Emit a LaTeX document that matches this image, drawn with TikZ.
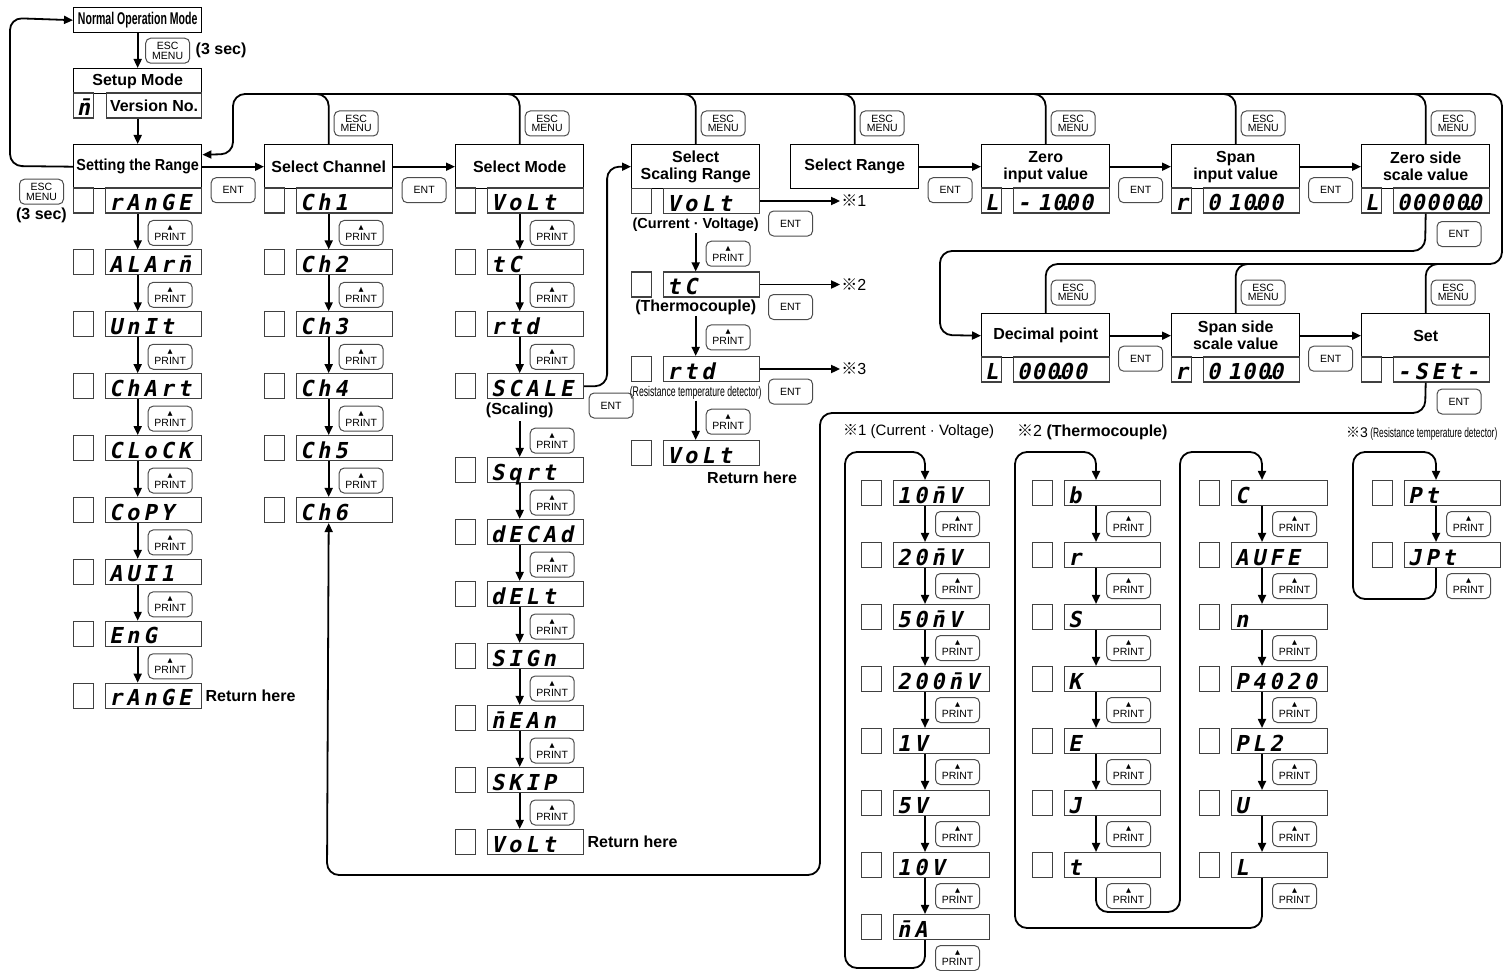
\documentclass[tikz,border=0pt]{standalone}
\usepackage{fontspec}
\setmainfont{Liberation Sans}
\newfontfamily\segfont[FakeSlant=0.2,LetterSpace=18]{DejaVu Sans Mono}
\newfontfamily\condfont[FakeStretch=0.9]{Liberation Sans}
\newfontfamily\narrowfont[FakeStretch=0.62]{Liberation Sans}
\newfontfamily\symfont{DejaVu Sans}
\newfontfamily\cjkfont{Noto Sans CJK JP}
\usetikzlibrary{arrows.meta,positioning}

\newcommand{\prt}{{\symfont\fontsize{6.5}{6.5}\selectfont ▲}\\[1.5pt]PRINT}
\newcommand{\segdot}{\makebox[0pt]{.}}

\tikzset{
  hdr/.style={draw, line width=1.4pt, minimum width=128pt, minimum height=44pt, inner sep=1pt,
    align=center, anchor=north west, font=\fontsize{16}{17}\selectfont\bfseries},
  seg/.style={draw=black!75, line width=1.1pt, minimum height=25pt, text width=89pt,
    text height=20pt, text depth=0pt, inner xsep=3.5pt, inner ysep=2.5pt, align=left, anchor=west,
    font=\segfont\bfseries\fontsize{22}{22}\selectfont},
  num/.style={seg, font=\segfont\bfseries\fontsize{22}{22}\selectfont\addfontfeature{LetterSpace=6}},
  sq/.style={draw=black!75, line width=1.1pt, minimum width=20pt, minimum height=25pt,
    text height=20pt, text depth=0pt, inner sep=0pt, anchor=west,
    font=\segfont\bfseries\fontsize{22}{22}\selectfont\addfontfeature{LetterSpace=0}},
  btn/.style={draw=black!70, line width=1pt, rounded corners=5pt, minimum width=44pt,
    minimum height=25pt, inner sep=0pt, align=center, font=\fontsize{10.5}{9.5}\selectfont},
  flow/.style={line width=1.8pt, -{Triangle[length=9pt,width=8pt]}},
  wire/.style={line width=1.8pt, rounded corners=12pt},
  note/.style={font=\fontsize{16}{17}\selectfont\bfseries},
}

\begin{document}
\begin{tikzpicture}[x=1pt,y=-1pt]
\useasboundingbox (0,0) rectangle (1504,971);
\coordinate (top) at (0,94);
\coordinate (top2) at (0,264);

% entry into setup
\node[draw, line width=1.4pt, minimum width=128pt, minimum height=25pt, inner sep=0pt, anchor=north west,
  font=\narrowfont\bfseries\fontsize{17}{17}\selectfont] (normal) at (73,7) {Normal Operation Mode};
\node[draw, line width=1.4pt, minimum width=128pt, minimum height=25pt, inner sep=0pt, anchor=north west, note]
  (setup) at (73,68) {Setup Mode};
\node[sq] (versq) at (73,105.5) {n̄};
\node[draw=black!75, line width=1.1pt, minimum width=95pt, minimum height=25pt, anchor=west, note]
  (version) at (106,105.5) {Version No.};
\draw[flow] (normal) -- (setup) node[midway, btn, xshift=30pt] (esc0) {ESC\\MENU};
\node[note, right=2pt of esc0] {(3 sec)};

% setting the range
\node[hdr] (range) at (73,144) {\condfont Setting the Range};
\draw[flow] (version.south -| range.north) -- (range.north);
\draw[wire, flow] (range.west) -- (10,166) -- (10,18) -- (normal.west);
\node[btn, anchor=north east] (esc1) at ([xshift=-9pt, yshift=-12pt]range.west) {ESC\\MENU};
\node[note, below=0pt of esc1] {(3 sec)};

\foreach \t [count=\i from 0] in {rAnGE,ALArn̄,UnIt,ChArt,CLoCK,CoPY,AUI1,EnG,rAnGE}
  {\node[sq] (s1-\i) at (73,200.5+61.9*\i) {};
   \node[seg] (d1-\i) at (105,200.5+61.9*\i) {\t};}
\foreach \i [evaluate=\i as \j using int(\i+1)] in {0,...,7}
  \draw[flow] (d1-\i.south -| range.south) -- (d1-\j.north -| range.south)
    node[midway, btn, xshift=32.5pt, yshift=-1.5pt] {\prt};
\node[note, anchor=west] at (d1-8.east) {Return here};

% select channel
\node[hdr] (chan) at (264,144) {Select Channel};
\draw[flow] (range.east) -- (chan.west) node[midway, btn, yshift=-23.5pt] {ENT};
\foreach \i in {0,...,5}
  {\pgfmathtruncatemacro{\n}{\i+1}
   \node[sq] (s2-\i) at (264,200.5+61.9*\i) {};
   \node[seg] (d2-\i) at (296,200.5+61.9*\i) {Ch\n};}
\foreach \i [evaluate=\i as \j using int(\i+1)] in {0,...,4}
  \draw[flow] (d2-\i.south -| chan.south) -- (d2-\j.north -| chan.south)
    node[midway, btn, xshift=32.5pt, yshift=-1.5pt] {\prt};

% select mode
\node[hdr] (mode) at (455,144) {Select Mode};
\draw[flow] (chan.east) -- (mode.west) node[midway, btn, yshift=-23.5pt] {ENT};
\foreach \t/\y [count=\i from 0] in {VoLt/200.5,tC/262.4,rtd/324.3,SCALE/386.2,Sqrt/470,dECAd/532,
    dELt/594,SIGn/656,n̄EAn/718,SKIP/780,VoLt/842}
  {\node[sq] (s3-\i) at (455,\y) {};
   \node[seg] (d3-\i) at (487,\y) {\t};}
\foreach \i [evaluate=\i as \j using int(\i+1)] in {0,1,2,4,5,6,7,8,9}
  \draw[flow] (d3-\i.south -| mode.south) -- (d3-\j.north -| mode.south)
    node[midway, btn, xshift=32.5pt, yshift=-1.5pt] {\prt};
\node[note, anchor=north] (scl) at (d3-3.south -| mode.south) {(Scaling)};
\draw[flow] (scl.south -| mode.south) -- (d3-4.north -| mode.south)
  node[midway, btn, xshift=32.5pt, yshift=-1.5pt] {\prt};
\node[note, anchor=west] at (d3-10.east) {Return here};

% select scaling range
\node[hdr] (scal) at (631,144) {Select\\Scaling Range};
\draw[wire, flow] (d3-3.east) -- ++(23,0) |- (scal.west);
\node[btn] at ([xshift=27pt, yshift=-19.3pt]d3-3.east) {ENT};
\foreach \t/\y [count=\i from 0] in {VoLt/201,tC/284.5,rtd/369,VoLt/453}
  {\node[sq] (s4-\i) at (631,\y) {};
   \node[seg] (d4-\i) at (663,\y) {\t};}
\node[anchor=north, inner sep=1pt, font=\bfseries\fontsize{14.5}{15}\selectfont] (lb0)
  at ([yshift=-3pt]d4-0.south -| scal.south) {(Current · Voltage)};
\node[anchor=north, inner sep=1pt, note] (lb1)
  at ([yshift=-1pt]d4-1.south -| scal.south) {(Thermocouple)};
\node[anchor=north, inner sep=1pt, font=\narrowfont\fontsize{14}{14}\selectfont] (lb2)
  at ([yshift=-3pt]d4-2.south -| scal.south) {(Resistance temperature detector)};
\foreach \i [evaluate=\i as \j using int(\i+1)] in {0,1,2}
  \draw[flow] (lb\i.south -| scal.south) -- (d4-\j.north -| scal.south)
    node[midway, btn, xshift=32.5pt, yshift=-1.5pt] {\prt};
\node[note, anchor=north west, inner sep=0pt] at ([xshift=44pt, yshift=-6pt]d4-3.south west) {Return here};
\foreach \i/\m in {0/1,1/2,2/3}
  {\node[anchor=west, inner sep=1pt, font=\fontsize{16}{16}\selectfont] (mk\m)
     at ([xshift=80pt]d4-\i.east) {{\cjkfont ※}\m};
   \draw[flow] (d4-\i.east) -- (mk\m.west);
   \node[btn] at ([xshift=30.5pt, yshift=-22.5pt]d4-\i.east) {ENT};}

% range values, first row
\node[hdr] (srng) at (790,144) {Select Range};
\node[hdr] (zin) at (981,144) {Zero\\input value};
\node[hdr] (sin) at (1171,144) {Span\\input value};
\node[hdr] (zsc) at (1361,144) {Zero side\\scale value};
\draw[flow] (srng.east) -- (zin.west) node[midway, btn, yshift=-23.5pt] {ENT};
\draw[flow] (zin.east) -- (sin.west) node[midway, btn, yshift=-23.5pt] {ENT};
\draw[flow] (sin.east) -- (zsc.west) node[midway, btn, yshift=-23.5pt] {ENT};
\node[sq] (zin-s) at (981,200.5) {L};
\node[num] (zin-v) at (1013,200.5) {-~10\segdot00};
\node[sq] (sin-s) at (1171,200.5) {r};
\node[num] (sin-v) at (1203,200.5) {0~10\segdot00};
\node[sq] (zsc-s) at (1361,200.5) {L};
\node[num] (zsc-v) at (1393,200.5) {00000\segdot0};

% range values, second row
\node[hdr] (dpt) at (981,313) {Decimal point};
\node[hdr] (ssc) at (1171,313) {Span side\\scale value};
\node[hdr] (set) at (1361,313) {Set};
\draw[flow] (dpt.east) -- (ssc.west) node[midway, btn, yshift=-23pt] {ENT};
\draw[flow] (ssc.east) -- (set.west) node[midway, btn, yshift=-23pt] {ENT};
\node[sq] (dpt-s) at (981,369.5) {L};
\node[num] (dpt-v) at (1013,369.5) {000\segdot00};
\node[sq] (ssc-s) at (1171,369.5) {r};
\node[num] (ssc-v) at (1203,369.5) {0~100\segdot0};
\node[sq] (set-s) at (1361,369.5) {};
\node[seg] (set-v) at (1393,369.5) {-SEt-};

% zero side -> decimal point
\draw[wire, flow] (zsc-v.south -| zsc.south) -- (1425,251) -- (940,251) -- (940,335) -- (dpt.west);
\node[btn] at (1459,234) {ENT};

% ESC MENU returns
\draw[wire, flow] (dpt.north) -- (dpt.north |- top2) -- (1502,264) -- (1502,94) -- (233,94) -- (233,154)
  -- ([yshift=12pt]range.east);
\node[btn, anchor=west] at ([xshift=5pt, yshift=20.5pt]dpt.north) {ESC\\MENU};
\foreach \h in {chan,mode,scal,srng,zin,sin,zsc}
  {\draw[wire] (\h.north) -- (\h.north |- top) -- ++(-24,0);
   \node[btn, anchor=west] at ([xshift=5pt, yshift=20.5pt]\h.north) {ESC\\MENU};}
\foreach \h in {ssc,set}
  {\draw[wire] (\h.north) -- (\h.north |- top2) -- ++(24,0);
   \node[btn, anchor=west] at ([xshift=5pt, yshift=20.5pt]\h.north) {ESC\\MENU};}

% set -> back to channel
\draw[wire, flow] (set-v.south -| set.south) -- (1425,413) -- (820,413) -- (820,875) -- (327,875)
  -- (d2-5.south -| chan.south);
\node[btn] at (1459,401.5) {ENT};

% range lists
\node[anchor=west, inner sep=0pt, font=\fontsize{15}{15}\selectfont] (n1) at (843,432)
  {{\cjkfont ※}1 (Current · Voltage)};
\node[anchor=west, inner sep=0pt, font=\fontsize{16}{16}\selectfont] (n2) at (1017,432)
  {{\cjkfont ※}2 \textbf{(Thermocouple)}};
\node[anchor=west, inner sep=0pt, font=\fontsize{14}{14}\selectfont] (n3) at (1346,434)
  {{\cjkfont ※}3\,{\narrowfont\fontsize{13.5}{14}\selectfont(Resistance temperature detector)}};

\coordinate (t1) at (925,452);
\coordinate (t2) at (1096,452);
\coordinate (t3) at (1262,452);
\coordinate (t4) at (1436,452);
\foreach \t [count=\i from 0] in {10n̄V,20n̄V,50n̄V,200n̄V,1V,5V,10V,n̄A}
  {\node[sq] (q1-\i) at (861,493+62*\i) {};
   \node[seg] (L1-\i) at (893,493+62*\i) {\t};}
\foreach \t [count=\i from 0] in {b,r,S,K,E,J,t}
  {\node[sq] (q2-\i) at (1032,493+62*\i) {};
   \node[seg] (L2-\i) at (1064,493+62*\i) {\t};}
\foreach \t [count=\i from 0] in {C,AUFE,n,P4020,PL2,U,L}
  {\node[sq] (q3-\i) at (1199,493+62*\i) {};
   \node[seg] (L3-\i) at (1231,493+62*\i) {\t};}
\foreach \t [count=\i from 0] in {Pt,JPt}
  {\node[sq] (q4-\i) at (1372,493+62*\i) {};
   \node[seg] (L4-\i) at (1404,493+62*\i) {\t};}
\foreach \i [evaluate=\i as \j using int(\i+1)] in {0,...,6}
  \draw[flow] (L1-\i.south -| t1) -- (L1-\j.north -| t1) node[midway, btn, xshift=32.5pt] {\prt};
\foreach \i [evaluate=\i as \j using int(\i+1)] in {0,...,5}
  {\draw[flow] (L2-\i.south -| t2) -- (L2-\j.north -| t2) node[midway, btn, xshift=32.5pt] {\prt};
   \draw[flow] (L3-\i.south -| t3) -- (L3-\j.north -| t3) node[midway, btn, xshift=32.5pt] {\prt};}
\draw[flow] (L4-0.south -| t4) -- (L4-1.north -| t4) node[midway, btn, xshift=32.5pt] {\prt};

\draw[wire, flow] (L1-7.south -| t1) -- (925,968) -- (845,968) -- (845,452) -- (t1) -- (L1-0.north -| t1);
\draw[wire, flow] (L2-6.south -| t2) -- (1096,912) -- (1180,912) -- (1180,452) -- (t3) -- (L3-0.north -| t3);
\draw[wire, flow] (L3-6.south -| t3) -- (1262,928) -- (1015,928) -- (1015,452) -- (t2) -- (L2-0.north -| t2);
\draw[wire, flow] (L4-1.south -| t4) -- (1436,599) -- (1353,599) -- (1353,452) -- (t4) -- (L4-0.north -| t4);
\node[btn] at ([xshift=32.5pt, yshift=-18pt]L1-7.south -| t1) {\prt};
\node[btn] at ([xshift=32.5pt, yshift=-18pt]L2-6.south -| t2) {\prt};
\node[btn] at ([xshift=32.5pt, yshift=-18pt]L3-6.south -| t3) {\prt};
\node[btn] at ([xshift=32.5pt, yshift=-18pt]L4-1.south -| t4) {\prt};
\end{tikzpicture}
\end{document}
